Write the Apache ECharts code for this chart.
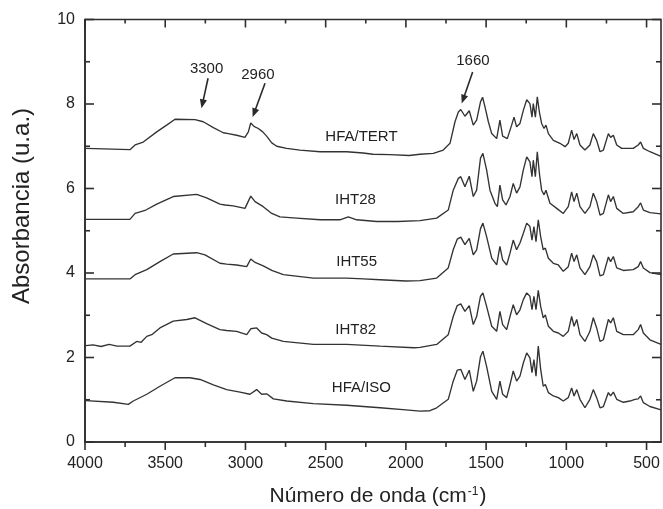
<!DOCTYPE html>
<html><head><meta charset="utf-8">
<script src="https://cdn.jsdelivr.net/npm/echarts@6/dist/echarts.min.js"></script>
<style>html,body{margin:0;padding:0;background:#fff}#c{width:663px;height:509px}</style>
</head><body><div id="c"></div>
<script>
// ---- data ----
const majorTicksX = [4000, 3500, 3000, 2500, 2000, 1500, 1000, 500];
const minorTicksX = [3750, 3250, 2750, 2250, 1750, 1250, 750];
const majorTicksY = [0, 2, 4, 6, 8, 10];
const minorTicksY = [1, 3, 5, 7, 9];
const seriesNames = ['HFA/TERT', 'IHT28', 'IHT55', 'IHT82', 'HFA/ISO'];
const peakNames = ['3300', '2960', '1660'];

const tertSpectrum = [[3995,6.95],[3720,6.92],[3688,7.03],[3637,7.10],[3553,7.34],[3491,7.50],[3439,7.64],[3314,7.63],[3263,7.58],[3200,7.44],[3138,7.32],[3107,7.30],[3055,7.26],[3003,7.21],[2982,7.34],[2967,7.55],[2947,7.47],[2920,7.42],[2892,7.34],[2868,7.24],[2836,7.08],[2805,7.00],[2743,6.95],[2660,6.91],[2535,6.87],[2369,6.87],[2267,6.84],[2205,6.81],[2100,6.80],[1980,6.78],[1912,6.81],[1829,6.83],[1767,6.91],[1725,7.07],[1694,7.58],[1673,7.81],[1658,7.87],[1632,7.71],[1605,7.84],[1580,7.50],[1559,7.62],[1535,8.05],[1522,8.16],[1507,7.93],[1486,7.58],[1465,7.30],[1434,7.18],[1414,7.62],[1397,7.24],[1368,7.18],[1341,7.50],[1326,7.69],[1310,7.46],[1289,7.54],[1268,7.85],[1247,8.10],[1227,8.01],[1214,7.69],[1206,8.01],[1193,7.69],[1181,8.17],[1168,7.81],[1154,7.54],[1139,7.42],[1127,7.50],[1112,7.30],[1081,7.14],[1040,7.07],[1008,6.99],[988,7.07],[967,7.38],[952,7.16],[935,7.30],[915,7.03],[884,6.91],[853,7.03],[832,7.30],[811,7.14],[790,6.87],[769,6.91],[738,7.30],[724,7.21],[707,7.26],[686,7.03],[655,6.95],[583,6.95],[552,7.03],[537,7.10],[520,6.95],[479,6.87],[410,6.76]];

const iht28Spectrum = [[3995,5.27],[3720,5.27],[3688,5.41],[3626,5.48],[3553,5.63],[3450,5.81],[3304,5.86],[3242,5.78],[3159,5.63],[3127,5.61],[3076,5.59],[3003,5.53],[2967,5.82],[2940,5.69],[2889,5.57],[2836,5.41],[2785,5.33],[2681,5.30],[2535,5.26],[2411,5.26],[2359,5.33],[2307,5.26],[2182,5.22],[2050,5.22],[1912,5.24],[1808,5.30],[1736,5.49],[1705,5.96],[1673,6.24],[1658,6.28],[1632,6.04],[1605,6.29],[1580,5.81],[1559,5.96],[1535,6.72],[1520,6.83],[1497,6.44],[1476,5.96],[1445,5.65],[1430,5.57],[1414,6.08],[1397,5.73],[1376,5.61],[1351,5.81],[1331,6.12],[1310,5.89],[1289,6.04],[1268,6.44],[1247,6.75],[1227,6.63],[1214,6.28],[1206,6.67],[1193,6.28],[1181,6.87],[1168,6.36],[1154,5.96],[1139,5.85],[1127,5.96],[1102,5.65],[1060,5.53],[1019,5.41],[988,5.57],[967,5.92],[952,5.69],[935,5.89],[915,5.57],[884,5.41],[853,5.57],[832,5.89],[811,5.69],[790,5.37],[769,5.41],[738,5.85],[724,5.69],[707,5.81],[686,5.53],[645,5.41],[583,5.45],[552,5.57],[537,5.66],[520,5.49],[479,5.43],[410,5.40]];

const iht55Spectrum = [[3995,3.86],[3720,3.86],[3688,3.96],[3615,4.08],[3533,4.27],[3450,4.45],[3304,4.48],[3252,4.43],[3159,4.23],[3117,4.21],[3055,4.19],[2992,4.15],[2967,4.33],[2940,4.25],[2889,4.17],[2836,4.06],[2764,3.96],[2577,3.88],[2369,3.88],[2266,3.86],[2161,3.84],[2000,3.81],[1912,3.82],[1808,3.88],[1736,4.12],[1705,4.55],[1680,4.80],[1658,4.85],[1632,4.67],[1605,4.82],[1580,4.43],[1559,4.55],[1535,5.05],[1520,5.18],[1497,4.86],[1465,4.35],[1434,4.19],[1414,4.63],[1397,4.31],[1372,4.19],[1351,4.47],[1331,4.78],[1310,4.55],[1289,4.71],[1268,4.94],[1247,5.18],[1227,5.10],[1214,4.78],[1202,5.10],[1189,4.74],[1175,5.26],[1160,4.86],[1144,4.55],[1131,4.59],[1112,4.35],[1081,4.23],[1050,4.19],[1019,4.04],[988,4.15],[967,4.47],[952,4.27],[935,4.43],[915,4.12],[884,3.96],[853,4.15],[832,4.43],[811,4.27],[790,3.93],[769,3.96],[738,4.38],[724,4.27],[707,4.39],[686,4.12],[645,4.06],[583,4.08],[552,4.15],[537,4.27],[520,4.12],[479,4.01],[410,3.96]];

const iht82Spectrum = [[3995,2.28],[3950,2.30],[3900,2.26],[3850,2.31],[3800,2.27],[3720,2.27],[3678,2.38],[3650,2.36],[3615,2.50],[3580,2.55],[3533,2.70],[3450,2.86],[3366,2.90],[3314,2.94],[3242,2.80],[3159,2.66],[3117,2.64],[3055,2.62],[2992,2.54],[2967,2.68],[2930,2.70],[2899,2.58],[2868,2.54],[2836,2.46],[2764,2.38],[2577,2.31],[2369,2.31],[2161,2.27],[1950,2.23],[1912,2.24],[1808,2.31],[1736,2.54],[1705,2.97],[1680,3.23],[1658,3.27],[1632,3.09],[1605,3.23],[1580,2.78],[1559,2.97],[1535,3.45],[1520,3.53],[1497,3.21],[1465,2.74],[1434,2.62],[1414,3.09],[1397,2.78],[1372,2.66],[1351,2.97],[1331,3.25],[1310,3.01],[1289,3.13],[1268,3.37],[1247,3.53],[1227,3.45],[1214,3.13],[1202,3.45],[1189,3.13],[1175,3.59],[1160,3.21],[1144,2.94],[1131,3.01],[1112,2.74],[1081,2.62],[1050,2.58],[1019,2.50],[988,2.62],[967,2.97],[952,2.74],[935,2.90],[915,2.54],[884,2.38],[853,2.62],[832,2.94],[811,2.70],[790,2.38],[769,2.42],[738,2.90],[724,2.82],[707,2.94],[686,2.62],[645,2.54],[583,2.54],[552,2.66],[537,2.78],[520,2.58],[479,2.42],[410,2.31]];

const isoSpectrum = [[3995,0.98],[3824,0.94],[3730,0.89],[3699,0.97],[3615,1.13],[3533,1.32],[3439,1.52],[3346,1.52],[3283,1.48],[3200,1.35],[3117,1.24],[3034,1.18],[2972,1.13],[2930,1.24],[2899,1.13],[2868,1.14],[2826,1.02],[2743,0.97],[2577,0.91],[2369,0.87],[2161,0.81],[2000,0.76],[1912,0.73],[1850,0.74],[1808,0.81],[1736,1.01],[1705,1.44],[1680,1.70],[1658,1.72],[1632,1.48],[1605,1.70],[1580,1.20],[1559,1.44],[1535,2.02],[1520,2.15],[1497,1.79],[1465,1.20],[1434,1.01],[1414,1.44],[1397,1.13],[1372,1.05],[1351,1.36],[1331,1.68],[1310,1.44],[1289,1.56],[1268,1.87],[1247,2.11],[1227,1.99],[1214,1.64],[1202,1.95],[1189,1.56],[1175,2.27],[1160,1.72],[1144,1.32],[1131,1.36],[1112,1.17],[1081,1.09],[1050,1.05],[1019,0.97],[988,1.05],[967,1.28],[952,1.09],[935,1.24],[915,1.01],[884,0.81],[853,1.01],[832,1.24],[811,1.05],[790,0.81],[769,0.84],[738,1.17],[724,1.09],[707,1.18],[686,1.01],[645,0.94],[604,0.97],[572,1.01],[552,1.02],[537,1.09],[520,0.93],[479,0.84],[410,0.76]];

const spectra = [tertSpectrum, iht28Spectrum, iht55Spectrum, iht82Spectrum, isoSpectrum];

// ---- layout (data-coordinate anchors for annotations) ----
const curveLabelAt = [[2277,7.22],[2314,5.73],[2307,4.26],[2313,2.66],[2277,1.29]];
const peakLayout = [
  {textAt:[3242,8.84], from:[3233,8.61], to:[3274,7.90]},
  {textAt:[2922,8.70], from:[2878,8.49], to:[2955,7.69]},
  {textAt:[1582,9.03], from:[1584,8.76], to:[1652,8.01]}
];

const FONT = '"Liberation Sans", Arial, sans-serif';
const INK = '#222';
const LINE = '#333';
const AX = '#2e2e2e';
const TICKC = AX;
const X_MIN = 410, X_MAX = 4000, Y_MIN = 0, Y_MAX = 10;

const option = {
  animation:false,
  backgroundColor:'#fff',
  grid:{left:85, right:2, top:19.5, bottom:67, containLabel:false,
        show:true, borderColor:AX, borderWidth:1.6, backgroundColor:'transparent'},
  xAxis:{type:'value', min:X_MIN, max:X_MAX, inverse:true, position:'bottom',
    splitLine:{show:false},
    axisLine:{show:true, lineStyle:{color:AX, width:1.6}},
    axisTick:{show:false},
    axisLabel:{show:true, customValues:majorTicksX, formatter:v => String(v), margin:14, fontSize:16, color:INK, fontFamily:FONT}},
  yAxis:{type:'value', min:Y_MIN, max:Y_MAX, interval:2, position:'left',
    axisLine:{show:true, lineStyle:{color:AX, width:1.6}},
    axisTick:{show:false},
    axisLabel:{margin:10, fontSize:16, color:INK, fontFamily:FONT},
    splitLine:{show:false}},
  series: spectra.map((d, i) => ({
    name: seriesNames[i], type:'line',
    data: d, showSymbol:false, symbol:'none', silent:true,
    lineStyle:{color:LINE, width:1.35}
  }))
};

const chart = echarts.init(document.getElementById('c'));
chart.setOption(option);

const toPx = p => chart.convertToPixel({xAxisIndex:0, yAxisIndex:0}, p);
const graphics = [];
const TW = 1.6;
const vTick = (x, y0, len) => graphics.push({type:'rect', shape:{x:x - TW/2, y:Math.min(y0, y0 + len), width:TW, height:Math.abs(len)}, style:{fill:TICKC}, z:100});
const hTick = (y, x0, len) => graphics.push({type:'rect', shape:{x:Math.min(x0, x0 + len), y:y - TW/2, width:Math.abs(len), height:TW}, style:{fill:TICKC}, z:100});

// x ticks: bottom outward, top inward
const yBottom = toPx([X_MAX, Y_MIN])[1], yTop = toPx([X_MAX, Y_MAX])[1];
majorTicksX.forEach(v => { const x = toPx([v, Y_MIN])[0]; vTick(x, yBottom, 8); vTick(x, yTop, 8); });
minorTicksX.forEach(v => { const x = toPx([v, Y_MIN])[0]; vTick(x, yBottom, 5); vTick(x, yTop, 4); });
// y ticks: inward on left and right
const xLeft = toPx([X_MAX, Y_MIN])[0], xRight = toPx([X_MIN, Y_MIN])[0];
majorTicksY.forEach(v => { const y = toPx([X_MAX, v])[1]; hTick(y, xLeft, 9); hTick(y, xRight, -9); });
minorTicksY.forEach(v => { const y = toPx([X_MAX, v])[1]; hTick(y, xLeft, 5); hTick(y, xRight, -5); });

curveLabelAt.forEach((p, i) => {
  const q = toPx(p);
  graphics.push({type:'text', x:q[0], y:q[1], style:{text:seriesNames[i], fill:INK, font:'15px ' + FONT, align:'center', verticalAlign:'middle'}});
});
peakLayout.forEach((a, i) => {
  const t = toPx(a.textAt), f = toPx(a.from), e = toPx(a.to);
  graphics.push({type:'text', x:t[0], y:t[1], style:{text:peakNames[i], fill:INK, font:'15px ' + FONT, align:'center', verticalAlign:'middle'}});
  const dx = e[0]-f[0], dy = e[1]-f[1], L = Math.hypot(dx, dy), ux = dx/L, uy = dy/L;
  const hl = 9, hw = 3.6;
  const bx = e[0]-ux*hl, by = e[1]-uy*hl;
  graphics.push({type:'line', shape:{x1:f[0], y1:f[1], x2:bx+ux*2, y2:by+uy*2}, style:{stroke:'#2a2a2a', lineWidth:1.6}});
  graphics.push({type:'polygon', shape:{points:[[e[0],e[1]],[bx-uy*hw, by+ux*hw],[bx+uy*hw, by-ux*hw]]}, style:{fill:'#2a2a2a'}});
});
// axis titles
graphics.push({type:'text', x:22, y:206, rotation:Math.PI/2,
  style:{text:'Absorbancia (u.a.)', fill:INK, font:'24px ' + FONT, align:'center', verticalAlign:'middle'}});
graphics.push({type:'text', x:378, y:496,
  style:{text:'{a|Número de onda (cm}{s|-1}{a|)}', align:'center', verticalAlign:'middle',
    rich:{a:{fontSize:21, fontFamily:FONT, fill:INK, color:INK},
          s:{fontSize:12, fontFamily:FONT, fill:INK, color:INK, verticalAlign:'top', padding:[0,1,0,1]}}}});
chart.setOption({graphic:graphics});
</script>
</body></html>
